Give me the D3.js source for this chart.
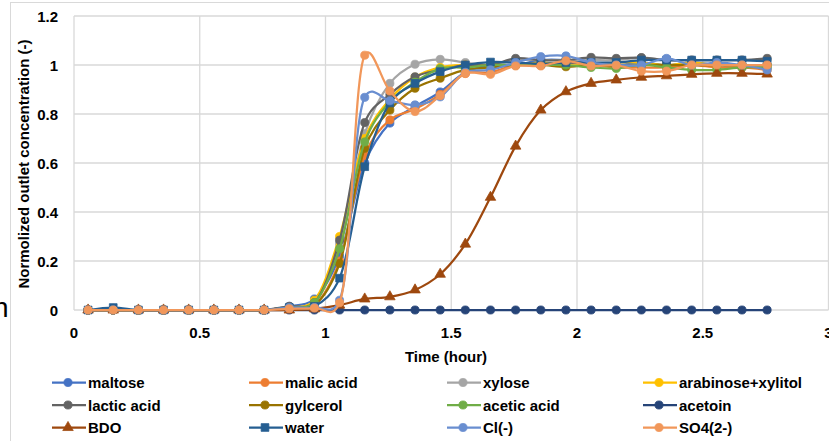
<!DOCTYPE html>
<html>
<head>
<meta charset="utf-8">
<script src="https://cdn.jsdelivr.net/npm/d3@7"></script>
<style>
  body { margin: 0; background: #fff; overflow: hidden; }
  text { font-family: "Liberation Sans", Arial, sans-serif; font-weight: bold; fill: #000; }
</style>
</head>
<body>
<div id="chart"></div>
<script>
// sample times (hour)
const times = [0.056, 0.156, 0.256, 0.356, 0.456, 0.556, 0.656, 0.756, 0.856, 0.956,
  1.056, 1.156, 1.256, 1.356, 1.456, 1.556, 1.656, 1.756, 1.856, 1.956,
  2.056, 2.156, 2.256, 2.356, 2.456, 2.556, 2.656, 2.756];

const maltose = [0,0,0,0,0,0,0,0,0.015,0.045,0.22,0.60,0.763,0.83,0.89,0.97,1.0,1.0,1.02,1.02,1.01,1.0,1.01,1.0,1.01,1.0,0.99,0.99];
const malicAcid = [0,0,0,0,0,0,0,0,0.01,0.02,0.2,0.63,0.776,0.82,0.88,0.965,0.97,1.0,1.0,1.01,1.0,0.99,0.99,0.99,1.0,0.99,0.99,0.98];
const xylose = [0,0,0,0,0,0,0,0,0.01,0.03,0.27,0.72,0.925,1.003,1.023,1.01,1.0,1.02,1.02,1.02,1.02,1.02,1.03,1.02,1.02,1.02,1.02,1.02];
const arabinose = [0,0,0,0,0,0,0,0,0.01,0.04,0.30,0.70,0.86,0.95,0.99,1.0,1.0,1.0,1.01,1.0,1.0,1.01,1.01,1.0,1.01,1.0,1.0,1.0];
const lacticAcid = [0,0,0,0,0,0,0,0,0.015,0.03,0.285,0.765,0.88,0.952,0.98,1.0,1.0,1.027,1.02,1.02,1.031,1.027,1.03,1.02,1.02,1.02,1.02,1.027];
const gylcerol = [0,0,0,0,0,0,0,0,0.01,0.02,0.19,0.66,0.816,0.905,0.946,0.98,0.99,1.0,1.0,0.993,1.0,0.995,1.0,1.0,1.0,1.0,1.0,1.0];
const aceticAcid = [0,0,0,0,0,0,0,0,0.01,0.03,0.25,0.686,0.85,0.93,0.985,0.99,1.0,1.0,1.0,1.0,0.99,0.986,1.0,0.99,0.98,0.98,0.99,0.99];
const acetoin = [0,0,0,0,0,0,0,0,0,0,0,0,0,0,0,0,0,0,0,0,0,0,0,0,0,0,0,0];
const bdo = [0,0,0,0,0,0,0,0,0,0.005,0.02,0.045,0.054,0.082,0.146,0.269,0.46,0.669,0.816,0.891,0.925,0.939,0.95,0.956,0.962,0.966,0.966,0.963];
const water = [0,0.01,0,0,0,0,0,0,0.01,0.015,0.13,0.585,0.845,0.925,0.973,1.0,1.012,1.01,1.005,1.01,1.01,1.01,1.02,1.02,1.02,1.02,1.02,1.015];
const chloride = [0,0,0,0,0,0,0,0,0.01,0.01,0.04,0.868,0.854,0.837,0.87,0.97,0.98,1.01,1.034,1.037,1.01,1.0,1.0,1.027,1.0,1.01,1.0,0.98];
const sulfate = [0,0,0,0,0,0,0,0,0.005,0.008,0.03,1.04,0.894,0.81,0.875,0.966,0.962,0.996,0.996,1.017,0.996,0.999,0.975,0.975,1.0,1.0,1.0,1.0];

const seriesNames = ["maltose","malic acid","xylose","arabinose+xylitol","lactic acid","gylcerol",
  "acetic acid","acetoin","BDO","water","Cl(-)","SO4(2-)"];
const seriesValues = [maltose, malicAcid, xylose, arabinose, lacticAcid, gylcerol,
  aceticAcid, acetoin, bdo, water, chloride, sulfate];
const seriesColors = ["#4472C4","#ED7D31","#A5A5A5","#FFC000","#636363","#997300",
  "#70AD47","#264478","#9E480E","#255E91","#698ED0","#F1975A"];
const seriesMarkers = ["circle","circle","circle","circle","circle","circle",
  "circle","circle","triangle","square","circle","circle"];

const xTicks = [0, 0.5, 1, 1.5, 2, 2.5, 3];
const yTicks = [0, 0.2, 0.4, 0.6, 0.8, 1, 1.2];

const W = 829, H = 441;
const svg = d3.select("#chart").append("svg")
  .attr("width", W).attr("height", H);

// chart area border (partly outside the window)
svg.append("rect")
  .attr("x", 10.5).attr("y", 2.5)
  .attr("width", 900).attr("height", 500)
  .attr("fill", "#fff").attr("stroke", "#D9D9D9");

// fragment of document text behind the chart
svg.append("text").attr("x", -7).attr("y", 317)
  .style("font-size", "28px").style("font-weight", "normal").text("n");

const x = d3.scaleLinear().domain([0, 3]).range([74, 828.5]);
const y = d3.scaleLinear().domain([0, 1.2]).range([310, 16]);

// gridlines
svg.append("g").selectAll("line").data(yTicks).join("line")
  .attr("x1", x(0)).attr("x2", x(3))
  .attr("y1", d => y(d)).attr("y2", d => y(d))
  .attr("stroke", "#D9D9D9").attr("stroke-width", 1.3);
svg.append("g").selectAll("line").data(xTicks).join("line")
  .attr("x1", d => x(d)).attr("x2", d => x(d))
  .attr("y1", y(0)).attr("y2", y(1.2))
  .attr("stroke", "#D9D9D9").attr("stroke-width", 1.3);

// tick labels
svg.append("g").selectAll("text").data(yTicks).join("text")
  .attr("x", 58).attr("y", d => y(d) + 5.5)
  .attr("text-anchor", "end").style("font-size", "15px")
  .text(d => d);
svg.append("g").selectAll("text").data(xTicks).join("text")
  .attr("x", d => x(d)).attr("y", 337.5)
  .attr("text-anchor", "middle").style("font-size", "15px")
  .text(d => d);

// axis titles
svg.append("text").attr("x", 446).attr("y", 361.5)
  .attr("text-anchor", "middle").style("font-size", "15px")
  .text("Time (hour)");
svg.append("text")
  .attr("transform", "translate(29,164) rotate(-90)")
  .attr("text-anchor", "middle").style("font-size", "15px")
  .text("Normolized outlet concentration (-)");

function markerPath(type) {
  if (type === "triangle") return d3.symbol(d3.symbolTriangle, 48)();
  if (type === "square") return d3.symbol(d3.symbolSquare, 60)();
  return d3.symbol(d3.symbolCircle, 52)();
}

// smoothed lines, a bit of overshoot like the spreadsheet smoothing
const line = d3.line()
  .x((d, i) => x(times[i]))
  .y(d => y(d))
  .curve(d3.curveCatmullRom.alpha(0.25));

const plot = svg.append("g");
seriesValues.forEach((vals, s) => {
  const g = plot.append("g");
  g.append("path")
    .attr("d", line(vals))
    .attr("fill", "none")
    .attr("stroke", seriesColors[s])
    .attr("stroke-width", 2.25);
  g.selectAll("path.m").data(vals).join("path")
    .attr("class", "m")
    .attr("transform", (d, i) => `translate(${x(times[i])},${y(d)})`)
    .attr("d", markerPath(seriesMarkers[s]))
    .attr("fill", seriesColors[s])
    .attr("stroke", seriesColors[s])
    .attr("stroke-width", 0.75);
});

// legend
const colX = [52, 249, 447, 643];
const rowY = [382.5, 405, 427.5];
const legend = svg.append("g");
seriesNames.forEach((name, s) => {
  const lx = colX[s % 4], ly = rowY[Math.floor(s / 4)];
  const g = legend.append("g");
  g.append("line")
    .attr("x1", lx).attr("x2", lx + 34)
    .attr("y1", ly).attr("y2", ly)
    .attr("stroke", seriesColors[s]).attr("stroke-width", 2.25);
  g.append("path")
    .attr("transform", `translate(${lx + 16},${ly})`)
    .attr("d", markerPath(seriesMarkers[s]))
    .attr("fill", seriesColors[s])
    .attr("stroke", seriesColors[s]).attr("stroke-width", 0.75);
  g.append("text")
    .attr("x", lx + 36).attr("y", ly + 5.5)
    .style("font-size", "15px")
    .text(name);
});
</script>
</body>
</html>
